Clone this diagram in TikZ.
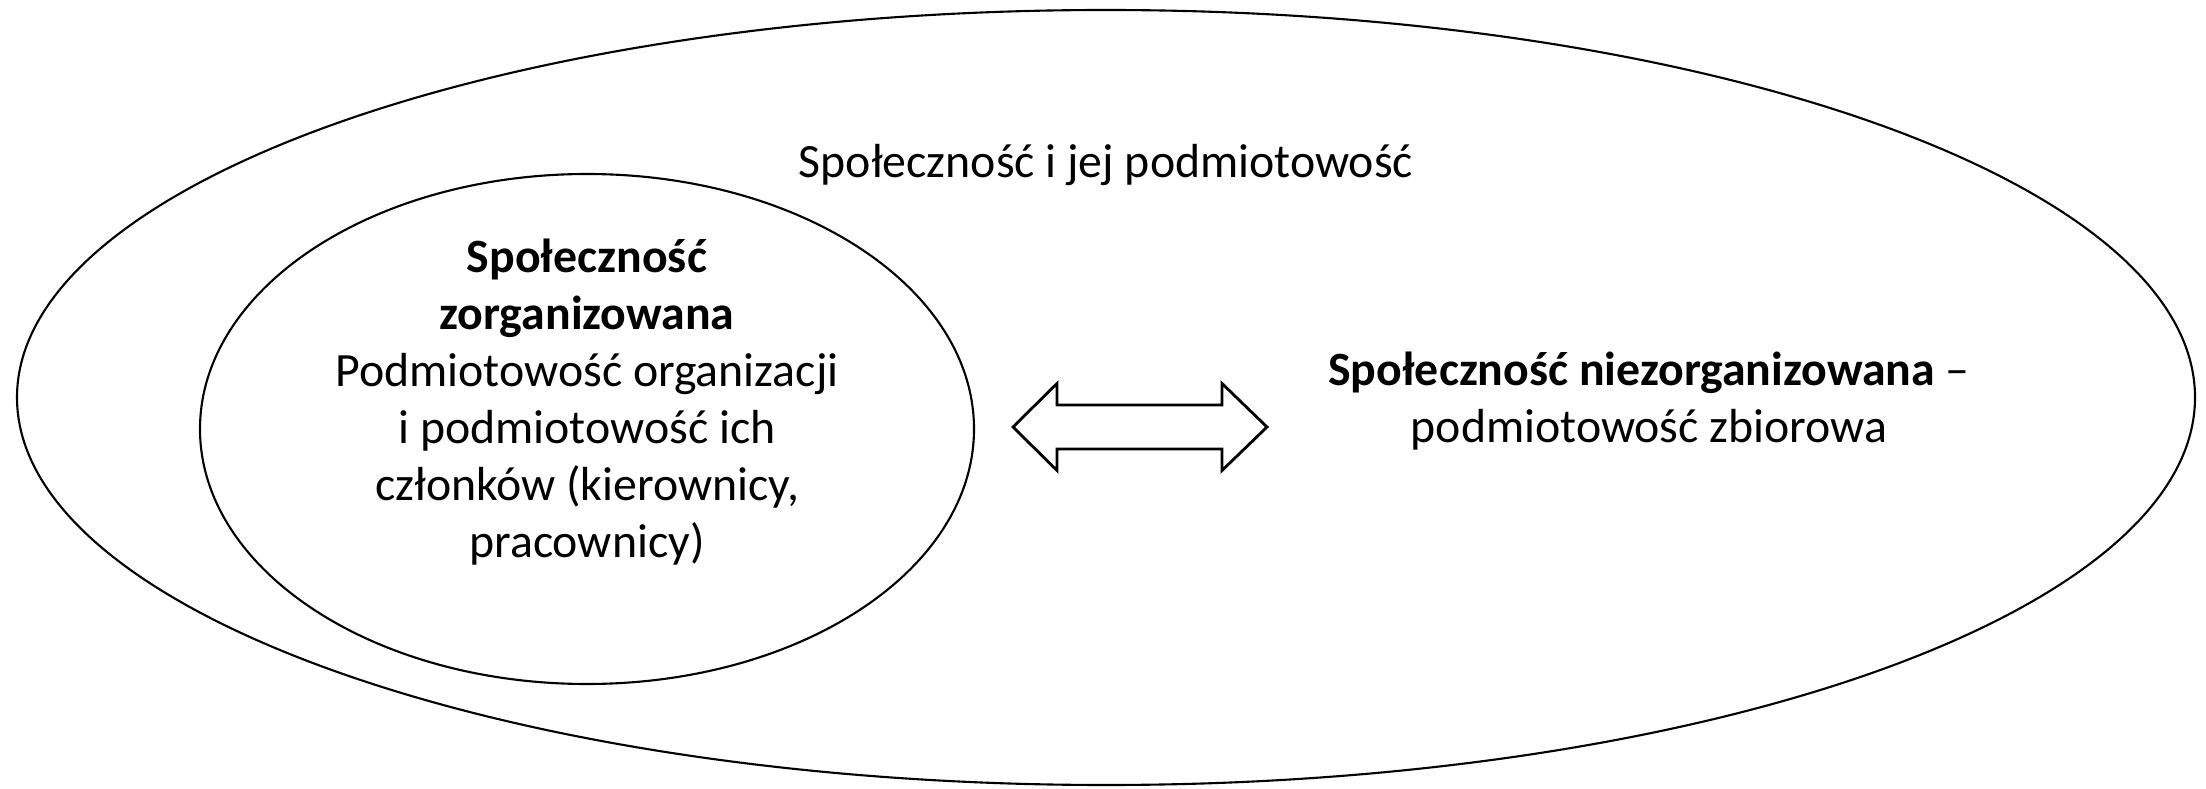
\documentclass[tikz,border=0pt]{standalone}
\usepackage{fontspec}
\setmainfont{Carlito}
\usepackage{tikz}

\begin{document}
\begin{tikzpicture}[
        label text/.style={align=center, inner sep=0pt, font=\fontsize{13.6}{16.25}\selectfont},
        outline/.style={line width=0.6pt}
    ]
        \useasboundingbox (0, 0) rectangle (22.06, 7.88);

        \draw[outline] (11.06, 3.905) ellipse [x radius=10.89, y radius=3.875];
        \draw[outline] (5.87, 3.59) ellipse [x radius=3.87, y radius=2.55];

        \draw[line width=0.8pt, line join=miter] (10.13, 3.61) -- (10.57, 4.045) -- (10.57, 3.83) -- (12.22, 3.83)
            -- (12.22, 4.045) -- (12.67, 3.61) -- (12.22, 3.175) -- (12.22, 3.39)
            -- (10.57, 3.39) -- (10.57, 3.175) -- cycle;

        \node[label text] (whole) at (11.06, 6.23) {Społeczność i jej podmiotowość};
        \node[label text] (organized) at (5.87, 3.86) {\textbf{Społeczność}\\ \textbf{zorganizowana}\\ Podmiotowość organizacji\\ i podmiotowość ich\\ członków (kierownicy,\\ pracownicy)};
        \node[label text] (unorganized) at (16.49, 3.87) {\textbf{Społeczność niezorganizowana} --\\ podmiotowość zbiorowa};
    \end{tikzpicture}
\end{document}
